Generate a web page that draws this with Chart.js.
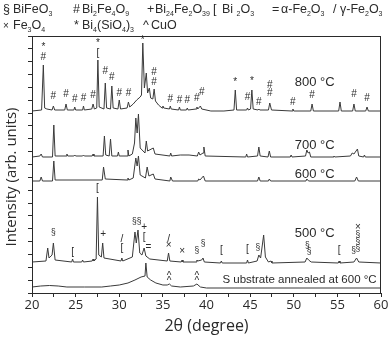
<!DOCTYPE html>
<html>
<head>
<meta charset="utf-8">
<script src="https://cdn.jsdelivr.net/npm/chart.js@4.4.1/dist/chart.umd.min.js"></script>
<style>
  html, body { margin: 0; padding: 0; background: #fff; }
  canvas { display: block; }
</style>
</head>
<body>
<canvas id="xrd" width="390" height="338"></canvas>
<script>
// 2theta / intensity pairs (intensity already stacked with offsets)
const theta800 = [20, 21.1, 21.3, 21.45, 21.7, 22.3, 22.45, 22.6, 23.75, 23.9, 24.05, 24.8, 24.9, 25.0, 25.8, 25.9, 26.0,
  26.85, 27.0, 27.15, 27.42, 27.55, 27.7, 28.25, 28.4, 28.55, 29.0, 29.15, 29.3, 29.85, 30.0, 30.15, 30.9, 31.05, 31.2,
  31.6, 32.0, 32.4, 32.55, 32.7, 32.88, 33.1, 33.25, 33.45, 33.6, 33.85, 34.0, 34.15, 34.5, 34.9, 35.0, 35.1,
  35.75, 35.85, 35.95, 36.8, 36.9, 37.0, 37.7, 37.8, 37.9, 38.8, 38.9, 39.0, 39.3, 39.45, 40.5, 42.0,
  43.15, 43.3, 43.45, 44.6, 44.7, 44.8, 45.05, 45.2, 45.35, 45.9, 46.0, 46.1, 47.1, 47.25, 47.45,
  49.8, 49.9, 50.0, 51.95, 52.1, 52.25, 55.15, 55.3, 55.45, 56.75, 56.9, 57.05, 58.25, 58.4, 58.55, 60];
const int800 = [182, 183, 228, 185, 184, 183, 187, 183, 183, 189, 183, 183, 186, 183, 183, 187, 183,
  184, 189, 184, 185, 233, 186, 184, 210, 185, 184, 207, 185, 184, 193, 184, 185, 191, 186,
  189, 193, 196, 198, 250, 205, 220, 200, 205, 195, 194, 204, 192, 188, 185, 187, 185,
  184, 187, 184, 183, 186, 183, 183, 185, 183, 184, 186, 184, 187, 184, 182, 182,
  183, 203, 183, 183, 185, 183, 184, 203, 184, 183, 184, 183, 183, 190, 183,
  182, 184, 182, 182, 189, 182, 182, 191, 182, 182, 189, 182, 182, 186, 182, 182];

const theta700 = [20, 20.9, 21.05, 21.2, 22.35, 22.5, 22.65, 23.9, 24.0, 24.1, 24.8, 24.9, 25.0, 25.8, 25.9, 26.0,
  26.9, 27.0, 27.1, 28.15, 28.3, 28.45, 28.85, 29.0, 29.15, 29.8, 29.9, 30.0, 30.9, 31.0, 31.1,
  31.5, 31.75, 31.9, 32.05, 32.2, 32.4, 32.95, 33.1, 33.25, 33.9, 34.1, 35.8, 35.9, 36.0, 37.0, 38.0,
  38.95, 39.1, 39.25, 39.6, 39.7, 39.85, 44.5, 44.6, 44.7, 45.85, 46.0, 46.15, 47.05, 47.2, 47.35,
  49.6, 49.7, 49.8, 51.35, 51.5, 51.65, 51.8, 51.95, 54.5, 54.6, 54.7, 56.5, 56.7, 56.9, 57.3, 57.45,
  58.0, 58.1, 58.2, 60];
const int700 = [136, 137, 139, 136, 136, 168, 137, 137, 139, 137, 137, 138, 137, 137, 138, 137,
  137, 139, 137, 137, 157, 138, 137, 154, 137, 137, 141, 137, 137, 143, 137,
  139, 150, 175, 160, 179, 145, 140, 152, 142, 145, 139, 137, 140, 137, 138, 138,
  137, 141, 138, 140, 146, 137, 136, 139, 136, 137, 146, 137, 136, 142, 136,
  136, 138, 136, 137, 143, 140, 141, 136, 136, 137, 136, 137, 140, 139, 144, 137,
  136, 138, 136, 136];

const theta600 = [20, 20.9, 21.05, 21.2, 22.35, 22.5, 22.65, 28.05, 28.2, 28.4, 30.9, 31.0, 31.1,
  31.6, 31.9, 32.05, 32.2, 32.4, 33.0, 33.2, 33.4, 33.9, 34.1, 35.8, 35.9, 36.1,
  39.0, 39.1, 39.25, 39.65, 39.85, 45.85, 46.0, 46.15, 47.1, 47.2, 47.35, 51.4, 51.5, 51.7,
  57.0, 57.2, 57.4, 60];
const int600 = [112, 112, 116, 112, 112, 132, 113, 113, 126, 114, 113, 115, 113,
  115, 135, 127, 137, 118, 115, 126, 117, 119, 114, 112, 116, 112,
  112, 114, 113, 117, 112, 112, 116, 112, 112, 114, 112, 112, 114, 112,
  112, 116, 112, 112];

const theta500 = [20, 21.6, 21.8, 21.95, 22.3, 22.45, 22.65, 24.55, 24.65, 24.75, 25.7, 25.8, 25.9, 26.9, 27.0, 27.1,
  27.35, 27.5, 27.65, 27.95, 28.1, 28.25, 30.2, 30.3, 30.4, 31.5, 31.8, 31.95, 32.15, 32.35, 32.6, 32.85, 33.05, 33.5,
  35.5, 35.65, 35.8, 37.1, 37.2, 37.3, 38.8, 38.9, 39.0, 39.45, 39.6, 39.75, 41.6, 41.7, 41.8, 44.6, 44.7, 44.8,
  45.8, 46.0, 46.2, 46.4, 46.55, 46.75, 47.1, 47.4, 47.5, 51.3, 51.5, 51.7, 52.0, 55.1, 55.2, 55.3,
  56.9, 57.2, 57.45, 60];
const int500 = [31, 32, 45, 35, 38, 50, 33, 31, 34, 31, 31, 33, 31, 32, 34, 32,
  34, 96, 38, 36, 50, 35, 32, 35, 32, 36, 61, 50, 63, 40, 38, 45, 37, 34,
  32, 40, 32, 31, 33, 31, 31, 33, 32, 33, 35, 31, 30, 32, 30, 30, 33, 30,
  32, 38, 35, 48, 58, 36, 31, 32, 30, 31, 35, 33, 31, 30, 32, 30,
  31, 35, 31, 30];

const thetaSub = [20, 21, 22, 23, 24, 26, 28, 29, 30, 31, 31.8, 32.5, 32.95, 33.05, 33.2, 33.6, 34.2, 35.0, 35.5,
  35.75, 36.0, 37, 38.5, 38.9, 39.3, 40, 60];
const intSub = [6, 7, 7.5, 7, 6, 6, 6, 7, 8, 10, 13, 16, 17, 30, 16, 13, 10, 8, 8,
  9, 7, 6, 7, 9, 6, 5, 5];

// phase marks: [2theta, height, symbol]
const marks800 = [[21.3, 246, '*'], [21.3, 236, '#'], [22.45, 197, '#'], [23.9, 199, '#'], [24.9, 194, '#'],
  [25.9, 195, '#'], [27.0, 198, '#'], [27.55, 250, '*'], [27.55, 240, '['], [28.4, 222, '#'], [29.15, 216, '#'],
  [30.0, 200, '#'], [31.05, 200, '#'], [32.7, 253, '*'], [34.0, 221, '#'], [34.0, 211, '#'], [35.85, 194, '#'],
  [36.9, 193, '#'], [37.8, 193, '#'], [38.9, 195, '#'], [39.45, 201, '#'], [43.3, 211, '*'], [44.7, 196, '#'],
  [45.2, 212, '*'], [46.0, 191, '#'], [47.25, 208, '#'], [47.25, 200, '#'], [49.9, 191, '#'], [52.1, 198, '#'],
  [56.9, 199, '#'], [58.4, 195, '#']];
const marks500 = [[22.45, 60, '§'], [24.65, 41, '['], [27.5, 105, '['], [28.15, 59, '+'], [30.3, 54, '/'],
  [30.3, 45, '['], [32.0, 71, '§§'], [32.85, 66, '+'], [32.85, 56, '['], [33.35, 46, '='], [35.65, 54, '/'],
  [35.65, 48, '×'], [37.2, 42, '×'], [38.9, 42, '§'], [39.6, 49, '§'], [41.7, 43, '['], [44.7, 44, '['],
  [45.9, 45, '§'], [51.55, 47, '§'], [51.75, 41, '§'], [55.2, 43, '['], [56.85, 42, '§'], [57.35, 66, '×'],
  [57.35, 58, '§'], [57.35, 51, '§'], [57.35, 44, '§']];
const marksSub = [[35.7, 17, '^'], [35.7, 12, '^'], [38.9, 17, '^'], [38.9, 12, '^']];

// temperature captions: [2theta, height, text]
const captions = [[52.4, 211, '800 °C'], [52.4, 148, '700 °C'], [52.4, 119, '600 °C'], [52.4, 60, '500 °C']];
const substrateCaption = [59.5, 13, 'S ubstrate annealed at 600 °C'];

const legendRow1 = [['§', 'BiFeO_3'], ['#', 'Bi_2Fe_4O_9'], ['+', 'Bi_24Fe_2O_39'], ['[', 'Bi _2O_3'], ['=', 'α-Fe_2O_3'], ['/', 'γ-Fe_2O_3']];
const legendRow2 = [['×', 'Fe_3O_4'], ['*', 'Bi_4(SiO_4)_3'], ['^', 'CuO']];

const FONT = '"Liberation Sans", Arial, sans-serif';
const INK = '#2a2a2a';

function pts(xs, ys) {
  return xs.map((x, i) => ({ x: x, y: ys[i] }));
}

// draws "Bi_2Fe_4O_9" style text with subscripts, returns end x
function subText(ctx, str, x, y, size) {
  const parts = str.split(/_(\d+)/);
  parts.forEach((p, i) => {
    if (!p) return;
    if (i % 2 === 1) {
      ctx.font = (size * 0.56) + 'px ' + FONT;
      ctx.fillText(p, x, y + size * 0.26);
    } else {
      ctx.font = size + 'px ' + FONT;
      ctx.fillText(p, x, y);
    }
    x += ctx.measureText(p).width;
  });
  return x;
}

const decor = {
  id: 'decor',
  afterDatasetsDraw(chart) {
    const ctx = chart.ctx;
    const xs = chart.scales.x, ys = chart.scales.y;
    const a = chart.chartArea;
    ctx.save();
    ctx.fillStyle = INK;
    ctx.textAlign = 'center';
    ctx.textBaseline = 'middle';
    [marks800, marks500, marksSub].forEach(list => {
      list.forEach(m => {
        ctx.font = (m[2].startsWith('§') ? '8.5px ' : '10px ') + FONT;
        ctx.fillText(m[2], xs.getPixelForValue(m[0]), ys.getPixelForValue(m[1]));
      });
    });
    ctx.font = '13px ' + FONT;
    captions.forEach(c => ctx.fillText(c[2], xs.getPixelForValue(c[0]), ys.getPixelForValue(c[1])));
    ctx.font = '11.5px ' + FONT;
    ctx.textAlign = 'right';
    ctx.fillText(substrateCaption[2], xs.getPixelForValue(substrateCaption[0]), ys.getPixelForValue(substrateCaption[1]));
    ctx.textAlign = 'center';

    // frame
    ctx.strokeStyle = INK;
    ctx.lineWidth = 1;
    ctx.strokeRect(a.left + 0.5, a.top + 0.5, a.right - a.left - 1, a.bottom - a.top);

    // y title
    ctx.save();
    ctx.translate(12, 177);
    ctx.rotate(-Math.PI / 2);
    ctx.font = '15px "Open Sans", ' + FONT;
    ctx.fillText('Intensity (arb. units)', 0, 0);
    ctx.restore();

    // legend rows
    ctx.textAlign = 'left';
    ctx.textBaseline = 'alphabetic';
    const row1x = [[3, 13], [73, 82], [147, 155], [213, 222], [272, 281], [333, 340]];
    const row2x = [[3, 13], [74, 82], [143, 151]];
    legendRow1.forEach((e, i) => {
      ctx.font = '12.5px ' + FONT;
      ctx.fillText(e[0], row1x[i][0], 13);
      subText(ctx, e[1], row1x[i][1], 13, 12.5);
    });
    legendRow2.forEach((e, i) => {
      ctx.font = (e[0] === '×' ? '10px ' : '12.5px ') + FONT;
      ctx.fillText(e[0], row2x[i][0], 29);
      subText(ctx, e[1], row2x[i][1], 29, 12.5);
    });
    ctx.restore();
  }
};

const series = [pts(theta800, int800), pts(theta700, int700), pts(theta600, int600), pts(theta500, int500), pts(thetaSub, intSub)];

new Chart(document.getElementById('xrd'), {
  type: 'line',
  data: {
    datasets: series.map(d => ({
      data: d,
      borderColor: '#3a3a3a',
      borderWidth: 1,
      pointRadius: 0,
      tension: 0,
      fill: false
    }))
  },
  options: {
    responsive: false,
    animation: false,
    layout: { padding: { top: 36, right: 9, left: 0, bottom: 0 } },
    plugins: { legend: { display: false }, tooltip: { enabled: false } },
    scales: {
      x: {
        type: 'linear',
        min: 20,
        max: 60,
        afterFit(scale) { scale.height = 45; },
        ticks: {
          stepSize: 2.5,
          autoSkip: false,
          maxRotation: 0,
          padding: 0,
          color: INK,
          font: { family: '"Open Sans", "Liberation Sans", sans-serif', size: 13 },
          callback: v => (v % 5 === 0 ? String(v) : '')
        },
        grid: { drawOnChartArea: false, tickLength: 4, color: INK },
        border: { color: INK },
        title: {
          display: true,
          text: '2θ (degree)',
          color: INK,
          font: { family: '"Open Sans", "Liberation Sans", sans-serif', size: 16 },
          padding: { top: 0, bottom: 2 }
        }
      },
      y: {
        min: 0,
        max: 257,
        afterFit(scale) { scale.width = 32; },
        ticks: { display: false, stepSize: 12.85 },
        grid: { drawOnChartArea: false, tickLength: 4, color: INK },
        border: { color: INK }
      }
    }
  },
  plugins: [decor]
});
</script>
</body>
</html>
